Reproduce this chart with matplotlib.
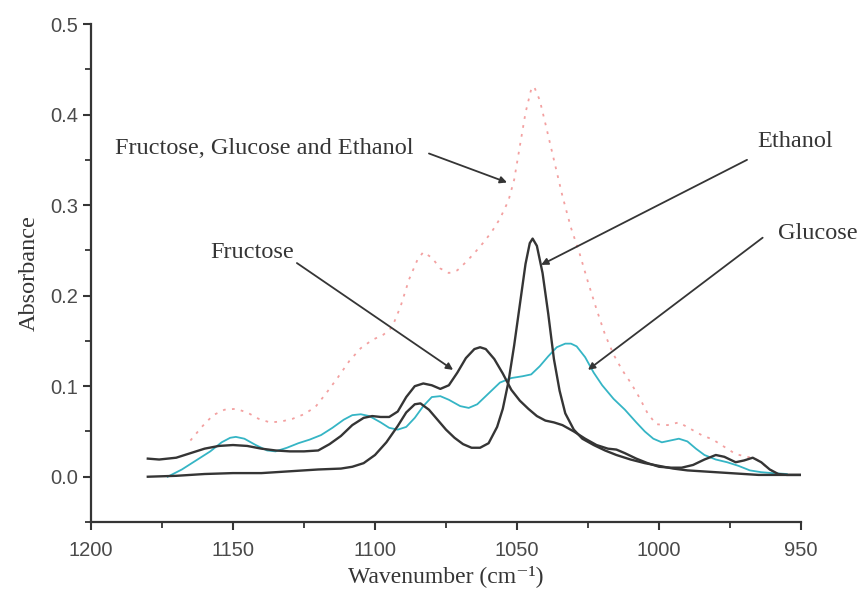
import matplotlib
matplotlib.use("Agg")
import matplotlib.pyplot as plt
from matplotlib.ticker import MultipleLocator

# Spectra (wavenumber in cm-1, absorbance)
fructose_x = [1180, 1176, 1170, 1165, 1160, 1155, 1150, 1145, 1140, 1135, 1130, 1125, 1120, 1116,
              1112, 1108, 1104, 1101, 1098, 1095, 1092, 1089, 1086, 1083, 1080, 1077, 1074, 1071,
              1068, 1065, 1063, 1061, 1058, 1055, 1052, 1049, 1046, 1043, 1040, 1037, 1034, 1030,
              1026, 1022, 1018, 1015, 1012, 1008, 1004, 1000, 996, 992, 988, 984, 980, 977, 973,
              970, 967, 964, 961, 958, 955, 950]
fructose_y = [0.020, 0.019, 0.021, 0.026, 0.031, 0.034, 0.035, 0.034, 0.031, 0.029, 0.028, 0.028,
              0.029, 0.036, 0.045, 0.057, 0.065, 0.067, 0.066, 0.066, 0.072, 0.088, 0.100, 0.103,
              0.101, 0.097, 0.101, 0.115, 0.131, 0.141, 0.143, 0.141, 0.130, 0.114, 0.096, 0.084,
              0.075, 0.067, 0.062, 0.060, 0.057, 0.050, 0.042, 0.035, 0.031, 0.030, 0.026, 0.020,
              0.015, 0.011, 0.010, 0.010, 0.013, 0.019, 0.024, 0.022, 0.016, 0.018, 0.021, 0.016,
              0.008, 0.003, 0.002, 0.002]

ethanol_x = [1180, 1170, 1160, 1150, 1140, 1130, 1120, 1112, 1108, 1104, 1100, 1096, 1092, 1089,
             1086, 1084, 1081, 1078, 1075, 1072, 1069, 1066, 1063, 1060, 1057, 1055, 1053, 1051,
             1049, 1047, 1045.5, 1044.5, 1043, 1041, 1039, 1037, 1035, 1033, 1030, 1027, 1023,
             1019, 1015, 1010, 1005, 1000, 995, 990, 985, 980, 975, 970, 965, 960, 950]
ethanol_y = [0.000, 0.001, 0.003, 0.004, 0.004, 0.006, 0.008, 0.009, 0.011, 0.015, 0.024, 0.038,
             0.056, 0.071, 0.080, 0.081, 0.074, 0.063, 0.052, 0.043, 0.036, 0.032, 0.032, 0.037,
             0.055, 0.075, 0.105, 0.145, 0.190, 0.235, 0.258, 0.263, 0.255, 0.225, 0.180, 0.130,
             0.095, 0.070, 0.052, 0.042, 0.035, 0.029, 0.024, 0.019, 0.015, 0.012, 0.009, 0.007,
             0.006, 0.005, 0.004, 0.003, 0.002, 0.002, 0.002]

glucose_x = [1173, 1168, 1163, 1158, 1154, 1151, 1149, 1146, 1142, 1138, 1135, 1131, 1127, 1123,
             1119, 1115, 1111, 1108, 1105, 1102, 1098, 1095, 1092, 1089, 1086, 1083, 1080, 1077,
             1074, 1070, 1067, 1064, 1060, 1056, 1052, 1048, 1045, 1042, 1039, 1036, 1033, 1031,
             1029, 1026, 1023, 1020, 1016, 1012, 1008, 1005, 1002, 999, 996, 993, 990, 987, 984,
             980, 976, 972, 968, 964, 960, 955]
glucose_y = [0.000, 0.008, 0.018, 0.028, 0.038, 0.043, 0.044, 0.042, 0.035, 0.029, 0.028, 0.032,
             0.037, 0.041, 0.046, 0.054, 0.063, 0.068, 0.069, 0.067, 0.060, 0.054, 0.052, 0.055,
             0.065, 0.078, 0.088, 0.089, 0.085, 0.078, 0.076, 0.080, 0.092, 0.104, 0.109, 0.111,
             0.113, 0.122, 0.133, 0.143, 0.147, 0.147, 0.144, 0.132, 0.115, 0.101, 0.086, 0.074,
             0.060, 0.050, 0.042, 0.038, 0.040, 0.042, 0.039, 0.031, 0.024, 0.019, 0.016, 0.012,
             0.007, 0.005, 0.004, 0.003]

mixture_x = [1165, 1161, 1157, 1153, 1149, 1145, 1141, 1137, 1133, 1129, 1125, 1121, 1117, 1113,
             1109, 1105, 1101, 1097, 1094, 1091, 1088, 1085, 1083, 1080, 1077, 1074, 1071, 1068,
             1065, 1062, 1059, 1056, 1053, 1051, 1049, 1047, 1045, 1044, 1042, 1040, 1037, 1034,
             1031, 1028, 1025, 1022, 1019, 1016, 1013, 1010, 1007, 1004, 1001, 997, 993, 989, 985,
             981, 977, 973, 969, 966, 963, 960]
mixture_y = [0.040, 0.055, 0.068, 0.074, 0.075, 0.071, 0.064, 0.060, 0.061, 0.064, 0.069, 0.077,
             0.093, 0.110, 0.128, 0.142, 0.151, 0.157, 0.165, 0.188, 0.218, 0.240, 0.248, 0.242,
             0.230, 0.225, 0.228, 0.237, 0.247, 0.258, 0.270, 0.285, 0.305, 0.328, 0.365, 0.402,
             0.428, 0.431, 0.416, 0.390, 0.350, 0.310, 0.275, 0.247, 0.215, 0.185, 0.157, 0.135,
             0.118, 0.104, 0.088, 0.070, 0.058, 0.057, 0.060, 0.053, 0.046, 0.041, 0.033, 0.025,
             0.022, 0.020, 0.013, 0.006]

# labels with (text position, arrow start, arrow tip) in data coordinates
labels = ["Fructose, Glucose and Ethanol", "Fructose", "Ethanol", "Glucose"]
label_pos = [(1191.5, 0.363), (1158, 0.248), (965.5, 0.370), (958, 0.269)]
arrow_start = [(1081, 0.357), (1127.5, 0.236), (969, 0.350), (963.5, 0.264)]
arrow_tip = [(1053.5, 0.325), (1072.5, 0.118), (1041.5, 0.234), (1025, 0.118)]

serif = ["Liberation Serif", "DejaVu Serif"]
dark = "#353535"

fig = plt.figure(figsize=(8.61, 6.02), dpi=100)
ax = fig.add_axes([0.1057, 0.1329, 0.8246, 0.8272])

ax.plot(mixture_x, mixture_y, color="#f3a0a0", lw=1.3, linestyle=(0, (1.5, 3.5)))
ax.plot(glucose_x, glucose_y, color="#35b5c5", lw=1.3)
ax.plot(fructose_x, fructose_y, color=dark, lw=1.7)
ax.plot(ethanol_x, ethanol_y, color=dark, lw=1.7)

for txt, pos in zip(labels, label_pos):
    ax.text(pos[0], pos[1], txt, family=serif, fontsize=17.5, color=dark,
            ha="left", va="center")
for start, tip in zip(arrow_start, arrow_tip):
    ax.annotate("", xy=tip, xytext=start,
                arrowprops=dict(arrowstyle="-|>", color=dark, lw=1.3,
                                mutation_scale=10, shrinkA=0, shrinkB=0))

ax.set_xlim(1200, 950)
ax.set_ylim(-0.05, 0.5)
ax.xaxis.set_major_locator(MultipleLocator(50))
ax.xaxis.set_minor_locator(MultipleLocator(25))
ax.yaxis.set_major_locator(MultipleLocator(0.1))
ax.yaxis.set_minor_locator(MultipleLocator(0.05))
ax.set_yticks([0.0, 0.1, 0.2, 0.3, 0.4, 0.5])
ax.set_yticklabels(["0.0", "0.1", "0.2", "0.3", "0.4", "0.5"])

for side in ["top", "right"]:
    ax.spines[side].set_visible(False)
for side in ["left", "bottom"]:
    ax.spines[side].set_color(dark)
    ax.spines[side].set_linewidth(1.6)

ax.tick_params(which="major", direction="out", length=6, width=1.5, color=dark,
               labelsize=14.5, labelcolor="#4a4a4a")
ax.tick_params(axis="x", which="major", pad=8)
ax.tick_params(which="minor", direction="out", length=4, width=1.3, color=dark)
for lab in ax.get_xticklabels() + ax.get_yticklabels():
    lab.set_family("Liberation Sans")

ax.set_xlabel("Wavenumber (cm\u207b\u00b9)", family=serif, fontsize=17, color=dark, labelpad=3)
ax.set_ylabel("Absorbance", family=serif, fontsize=17.5, color=dark, labelpad=7)

fig.savefig("out.png", dpi=100)
